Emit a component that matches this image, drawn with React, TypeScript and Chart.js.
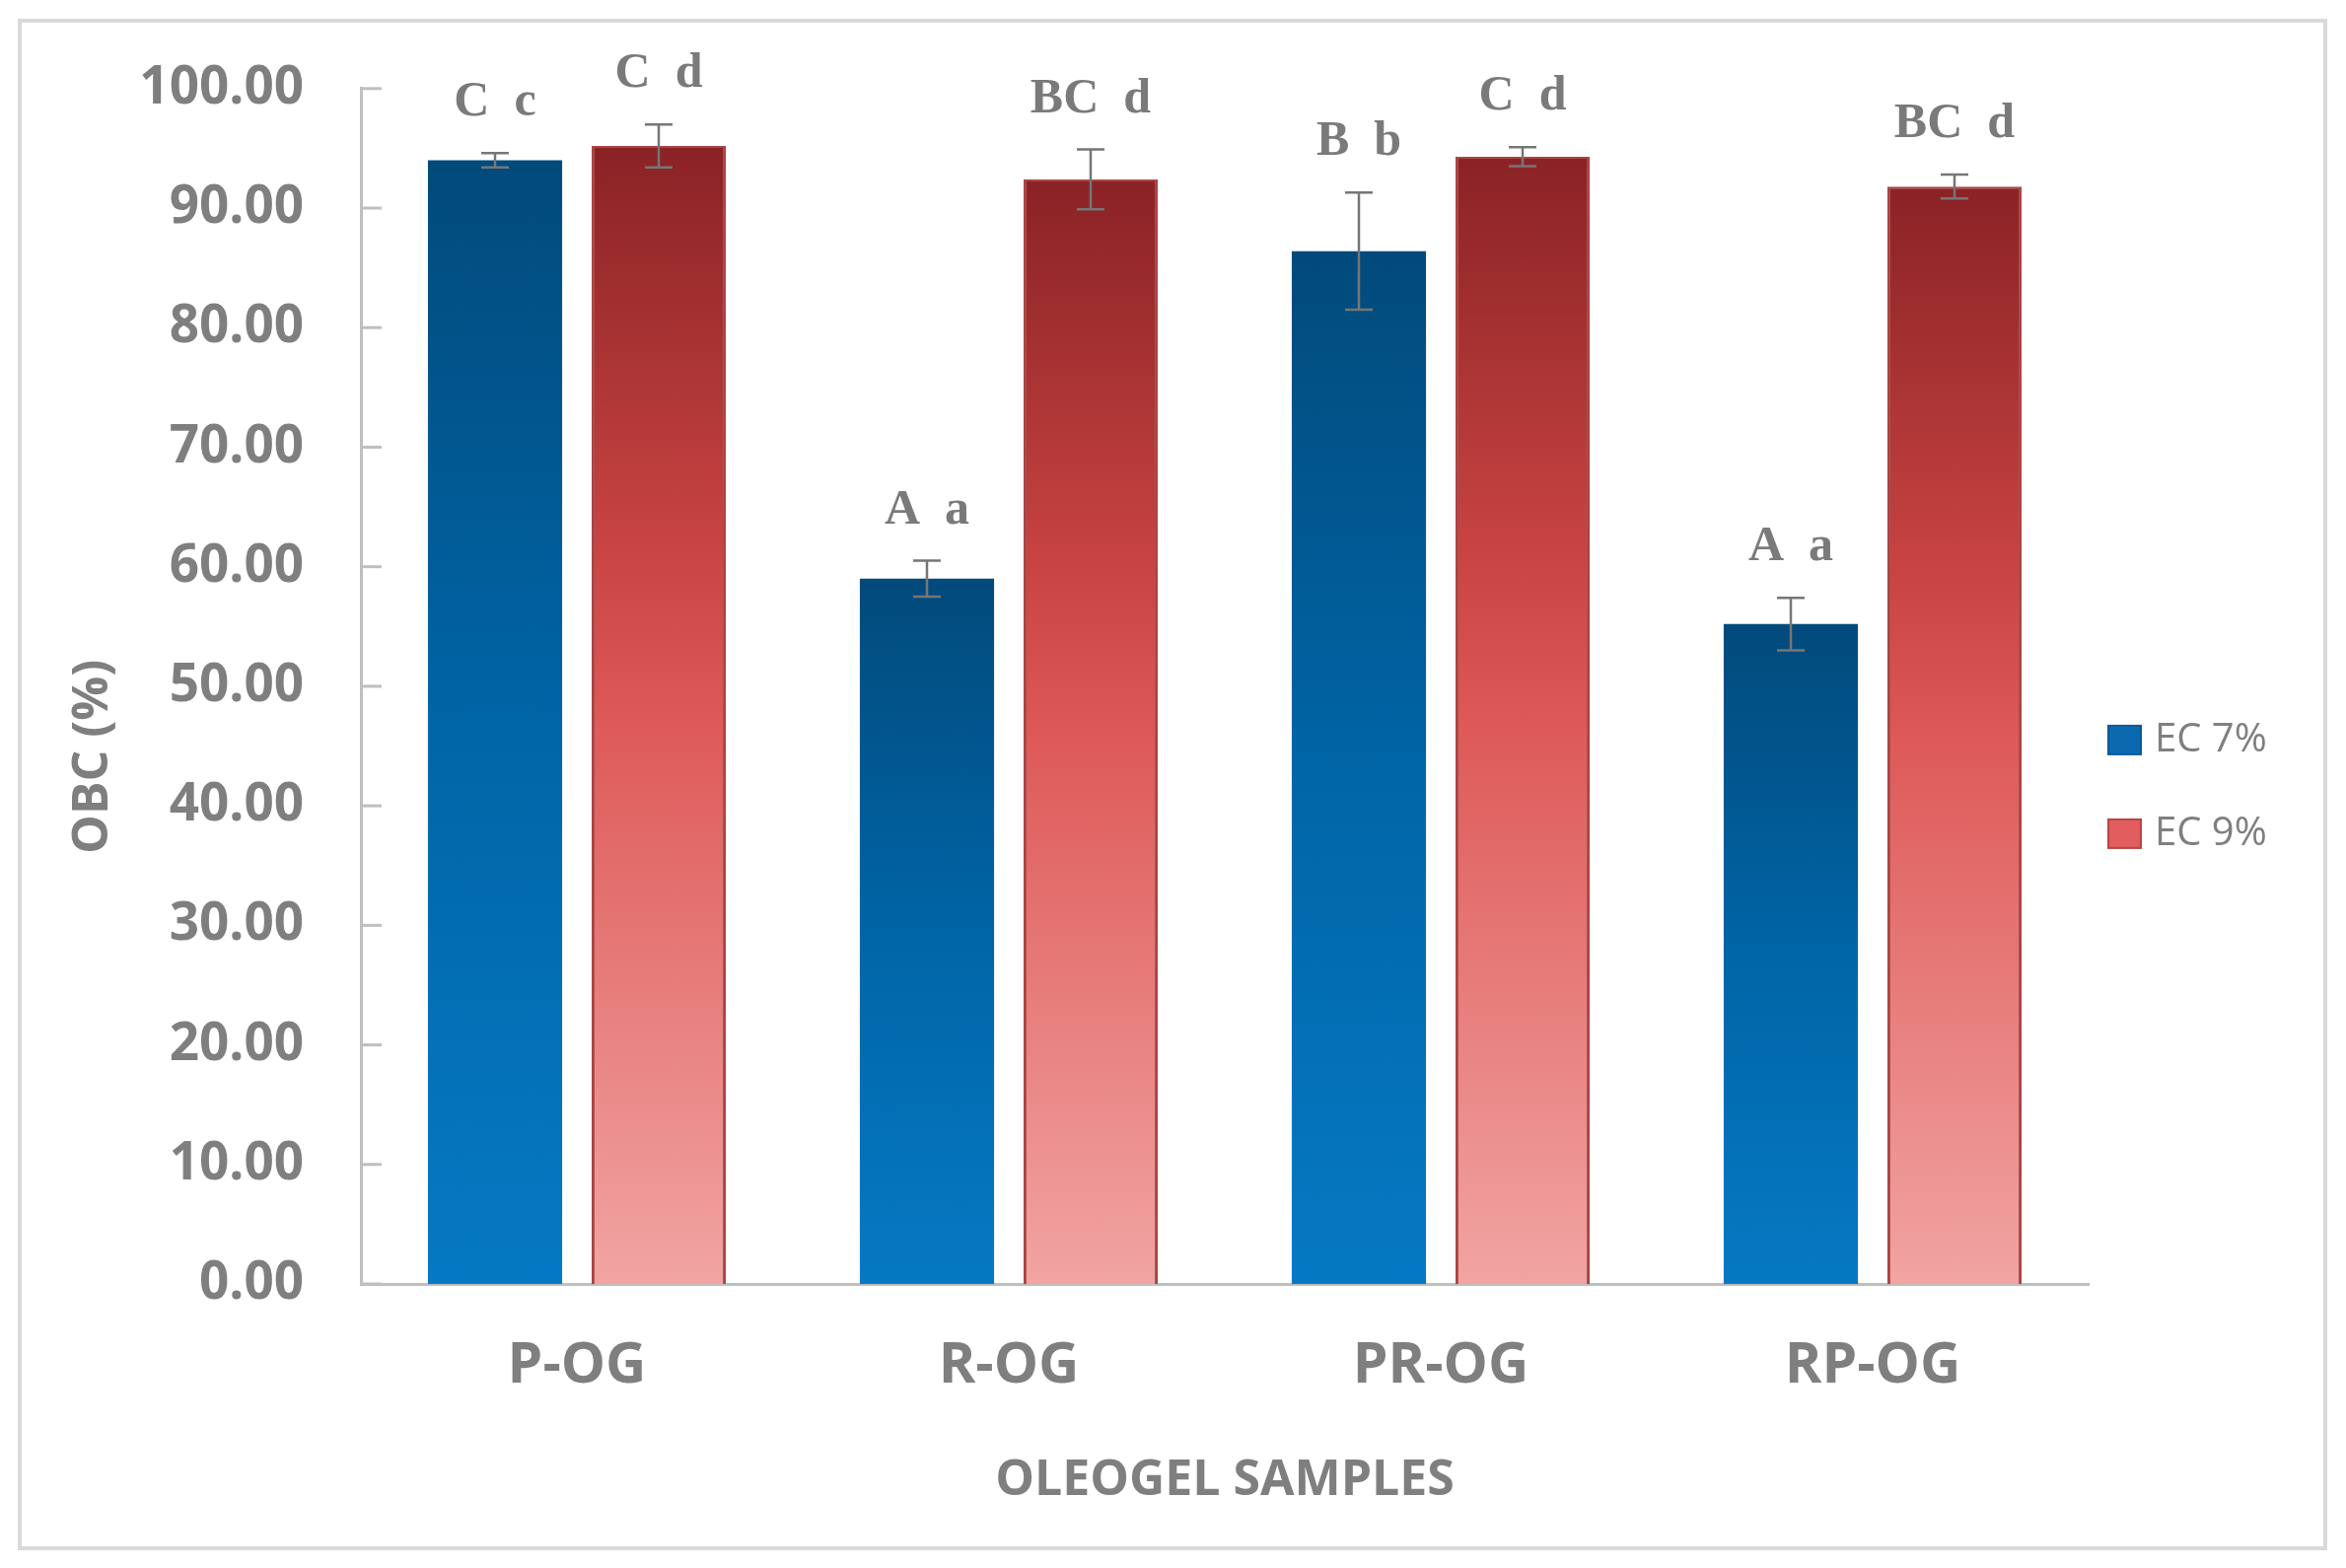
import React, { useEffect, useRef } from 'react';
import { Chart, registerables } from 'chart.js';

Chart.register(...registerables);

const categories = ['P-OG', 'R-OG', 'PR-OG', 'RP-OG'];
const seriesNames = ['EC 7%', 'EC 9%'];
const ec7Values = [94.0, 59.0, 86.4, 55.2];
const ec9Values = [95.2, 92.4, 94.3, 91.8];
const ec7Errors = [0.6, 1.5, 4.9, 2.2];
const ec9Errors = [1.8, 2.5, 0.8, 1.0];
const ec7Letters = ['C  c', 'A  a', 'B  b', 'A  a'];
const ec9Letters = ['C  d', 'BC  d', 'C  d', 'BC  d'];

const errorSets = [ec7Errors, ec9Errors];
const letterSets = [ec7Letters, ec9Letters];

const GRAY = '#7f7f7f';
const AXIS = '#bfbfbf';

const blueStops: [number, string][] = [
  [0, '#024a7b'],
  [0.5, '#0065a6'],
  [1, '#0679c4'],
];
const redStops: [number, string][] = [
  [0, '#8a2225'],
  [0.35, '#c84442'],
  [0.5, '#dd5957'],
  [1, '#f1a4a3'],
];

// gradient per bar, from its top down to the zero line
const barGradient = (stops: [number, string][], fallback: string) => (ctx: any) => {
  const chart = ctx.chart;
  const y = chart.scales?.y;
  if (ctx.type !== 'data' || !y || !chart.chartArea) return fallback;
  const top = y.getPixelForValue(ctx.raw);
  const bottom = y.getPixelForValue(0);
  const g = chart.ctx.createLinearGradient(0, top, 0, bottom);
  stops.forEach(([o, c]) => g.addColorStop(o, c));
  return g;
};

const extrasPlugin = {
  id: 'extras',
  afterDatasetsDraw(chart: any) {
    const { ctx, chartArea, scales } = chart;
    const y = scales.y;
    ctx.save();

    // inside tick marks on the value axis
    ctx.strokeStyle = AXIS;
    ctx.lineWidth = 3;
    y.ticks.forEach((t: any) => {
      const py = y.getPixelForValue(t.value);
      ctx.beginPath();
      ctx.moveTo(chartArea.left, py);
      ctx.lineTo(chartArea.left + 21, py);
      ctx.stroke();
    });

    // error bars and significance letters
    chart.data.datasets.forEach((ds: any, di: number) => {
      const meta = chart.getDatasetMeta(di);
      const errs = errorSets[di];
      const letters = letterSets[di];
      meta.data.forEach((bar: any, i: number) => {
        const v = ds.data[i];
        const hi = y.getPixelForValue(v + errs[i]);
        const lo = y.getPixelForValue(v - errs[i]);
        ctx.strokeStyle = '#767676';
        ctx.lineWidth = 2.5;
        ctx.beginPath();
        ctx.moveTo(bar.x, hi);
        ctx.lineTo(bar.x, lo);
        ctx.moveTo(bar.x - 14, hi);
        ctx.lineTo(bar.x + 14, hi);
        ctx.moveTo(bar.x - 14, lo);
        ctx.lineTo(bar.x + 14, lo);
        ctx.stroke();

        ctx.fillStyle = '#7a7a7a';
        ctx.font = 'bold 50px "Liberation Serif", "DejaVu Serif", serif';
        ctx.textAlign = 'center';
        ctx.textBaseline = 'alphabetic';
        ctx.fillText(letters[i], bar.x, hi - 38);
      });
    });
    ctx.restore();
  },
  afterDraw(chart: any) {
    const { ctx, chartArea } = chart;
    const x0 = chartArea.right + 20;
    const mid = (chartArea.top + chartArea.bottom) / 2;
    const swatches = [
      { fill: '#0b69b0', stroke: '#0a5a99' },
      { fill: '#e25d5d', stroke: '#b84444' },
    ];
    ctx.save();
    seriesNames.forEach((name, i) => {
      const cy = mid + 55 + i * 95;
      ctx.fillStyle = swatches[i].fill;
      ctx.fillRect(x0, cy - 15, 33, 29);
      ctx.strokeStyle = swatches[i].stroke;
      ctx.lineWidth = 2;
      ctx.strokeRect(x0, cy - 15, 33, 29);
      ctx.fillStyle = GRAY;
      ctx.font = '40px "Open Sans", sans-serif';
      ctx.textAlign = 'left';
      ctx.textBaseline = 'middle';
      ctx.fillText(name, x0 + 47, cy);
    });
    ctx.restore();
  },
};

const App: React.FC = () => {
  const canvasRef = useRef<HTMLCanvasElement | null>(null);
  const chartRef = useRef<Chart | null>(null);

  useEffect(() => {
    if (!canvasRef.current) return;
    if (chartRef.current) chartRef.current.destroy();

    chartRef.current = new Chart(canvasRef.current, {
      type: 'bar',
      data: {
        labels: categories,
        datasets: [
          {
            label: seriesNames[0],
            data: ec7Values,
            backgroundColor: barGradient(blueStops, '#0064a4'),
            borderWidth: 0,
          },
          {
            label: seriesNames[1],
            data: ec9Values,
            backgroundColor: barGradient(redStops, '#dd5957'),
            borderColor: '#a94444',
            borderWidth: { left: 3, right: 3, top: 2, bottom: 0 },
            borderSkipped: 'start',
          },
        ],
      },
      options: {
        responsive: false,
        animation: false,
        devicePixelRatio: 1,
        categoryPercentage: 0.758,
        barPercentage: 0.82,
        layout: { padding: { top: 83, left: 65, right: 261, bottom: 58 } },
        font: { family: '"Open Sans", sans-serif' },
        plugins: {
          legend: { display: false },
          tooltip: { enabled: false },
        },
        scales: {
          x: {
            grid: { display: false, drawTicks: false },
            border: { display: true, color: AXIS, width: 3 },
            ticks: {
              color: GRAY,
              padding: 50,
              font: { family: '"Open Sans", sans-serif', size: 57, weight: 'bold' },
            },
            title: {
              display: true,
              text: 'OLEOGEL SAMPLES',
              color: GRAY,
              padding: 0,
              font: { family: '"Open Sans", sans-serif', size: 50, weight: 'bold' },
            },
            afterFit: (scale: any) => {
              scale.height = 230;
            },
          },
          y: {
            min: 0,
            max: 100,
            grid: { display: false, drawTicks: false },
            border: { display: true, color: AXIS, width: 3 },
            ticks: {
              stepSize: 10,
              color: GRAY,
              padding: 58,
              callback: (v: any) => Number(v).toFixed(2),
              font: { family: '"Open Sans", sans-serif', size: 53, weight: 'bold' },
            },
            title: {
              display: true,
              text: 'OBC (%)' + ' '.repeat(11),
              color: GRAY,
              padding: 0,
              font: { family: '"Open Sans", sans-serif', size: 50, weight: 'bold' },
            },
            afterFit: (scale: any) => {
              scale.width = 301;
            },
          },
        },
      },
      plugins: [extrasPlugin],
    });

    return () => {
      if (chartRef.current) {
        chartRef.current.destroy();
        chartRef.current = null;
      }
    };
  }, []);

  return (
    <div style={{ position: 'fixed', left: 0, top: 0, width: 2379, height: 1590, background: '#fff' }}>
      <div
        style={{
          position: 'absolute',
          left: 18,
          top: 19,
          width: 2342,
          height: 1553,
          border: '4px solid #d9d9d9',
          boxSizing: 'border-box',
        }}
      />
      <canvas
        ref={canvasRef}
        width={2379}
        height={1590}
        style={{ position: 'absolute', left: 0, top: 0, width: 2379, height: 1590 }}
      />
    </div>
  );
};

export default App;
